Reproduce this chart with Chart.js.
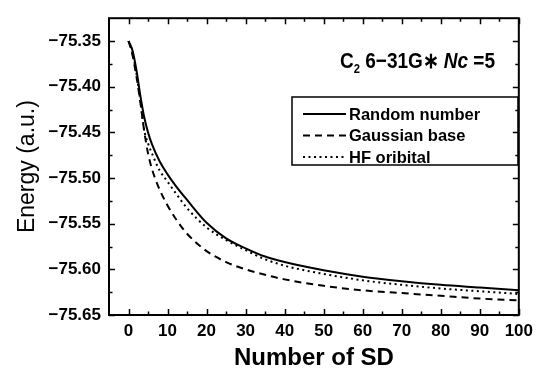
<!DOCTYPE html>
<html>
<head>
<meta charset="utf-8">
<script src="https://cdn.jsdelivr.net/npm/chart.js@4.4.1/dist/chart.umd.min.js"></script>
<style>
    body { margin: 0; background: #fff; }
    canvas { display: block; }
</style>
</head>
<body>
<canvas id="grafico" width="539" height="371"></canvas>
<script>
// valores
const numeroSD = [0, 1, 2, 3, 4, 5, 6, 8, 10, 12, 15, 20, 25, 30, 35, 40, 50, 60, 70, 80, 90, 100];
const energiaRandom = [-75.350, -75.360, -75.381, -75.409, -75.433, -75.450, -75.463, -75.482, -75.496, -75.508, -75.524, -75.549, -75.566, -75.577, -75.586, -75.592, -75.601, -75.608, -75.613, -75.617, -75.620, -75.623];
const energiaGaussian = [-75.350, -75.365, -75.388, -75.416, -75.448, -75.473, -75.490, -75.513, -75.530, -75.544, -75.561, -75.580, -75.592, -75.600, -75.606, -75.611, -75.618, -75.623, -75.626, -75.629, -75.632, -75.634];
const energiaHF = [-75.350, -75.362, -75.385, -75.414, -75.447, -75.462, -75.473, -75.492, -75.504, -75.516, -75.533, -75.554, -75.568, -75.579, -75.589, -75.596, -75.605, -75.612, -75.617, -75.621, -75.624, -75.627];

const ticksX = [0, 10, 20, 30, 40, 50, 60, 70, 80, 90, 100];
const ticksY = [-75.65, -75.60, -75.55, -75.50, -75.45, -75.40, -75.35];

const familia = '"Liberation Sans", Arial, sans-serif';

function montarPontos(valores) {
    return numeroSD.map((x, i) => ({ x: x, y: valores[i] }));
}

// caixa, tracinhos internos, legenda e anotacao
const pluginMoldura = {
    id: 'moldura',
    afterDraw(chart) {
        const ctx = chart.ctx;
        const area = chart.chartArea;
        const escalaX = chart.scales.x;
        const escalaY = chart.scales.y;

        ctx.save();
        ctx.strokeStyle = '#000';
        ctx.lineWidth = 2;
        ctx.strokeRect(area.left, area.top, area.right - area.left, area.bottom - area.top);

        ctx.lineWidth = 1.5;
        ctx.beginPath();
        const marcasX = [];
        ticksX.forEach((v, i) => {
            marcasX.push([v, 6]);
            if (i < ticksX.length - 1) {
                marcasX.push([(v + ticksX[i + 1]) / 2, 3.5]);
            }
        });
        marcasX.forEach(([v, tam]) => {
            const px = Math.round(escalaX.getPixelForValue(v)) + 0.5;
            ctx.moveTo(px, area.bottom);
            ctx.lineTo(px, area.bottom - tam);
            ctx.moveTo(px, area.top);
            ctx.lineTo(px, area.top + tam);
        });
        const marcasY = [];
        ticksY.forEach((v, i) => {
            marcasY.push([v, 6]);
            if (i < ticksY.length - 1) {
                marcasY.push([(v + ticksY[i + 1]) / 2, 3.5]);
            }
        });
        marcasY.forEach(([v, tam]) => {
            const py = Math.round(escalaY.getPixelForValue(v)) + 0.5;
            ctx.moveTo(area.left, py);
            ctx.lineTo(area.left + tam, py);
            ctx.moveTo(area.right, py);
            ctx.lineTo(area.right - tam, py);
        });
        ctx.stroke();

        // legenda
        const caixa = { x: 292, y: 97, w: 226, h: 68 };
        ctx.lineWidth = 1.5;
        ctx.strokeRect(caixa.x, caixa.y, caixa.w, caixa.h);
        ctx.font = 'bold 16.5px ' + familia;
        ctx.fillStyle = '#000';
        ctx.textBaseline = 'middle';
        chart.data.datasets.forEach((ds, i) => {
            const y = 114 + i * 21.5;
            ctx.beginPath();
            ctx.lineWidth = ds.borderWidth;
            ctx.setLineDash(ds.borderDash || []);
            ctx.moveTo(303, y);
            ctx.lineTo(346, y);
            ctx.stroke();
            ctx.setLineDash([]);
            ctx.fillText(ds.label, 349, y + 1);
        });

        // anotacao (fonte estreita: comprime na horizontal)
        const partes = [
            { t: 'C', f: 'bold 22px ', dy: 0 },
            { t: '2', f: 'bold 13px ', dy: 5 },
            { t: ' 6\u221231G\u2217 ', f: 'bold 22px ', dy: 0 },
            { t: 'Nc', f: 'italic bold 22px ', dy: 0 },
            { t: ' =5', f: 'bold 22px ', dy: 0 }
        ];
        let largura = 0;
        partes.forEach((p) => {
            ctx.font = p.f + familia;
            largura += ctx.measureText(p.t).width;
        });
        ctx.translate(340, 68);
        ctx.scale(155 / largura, 1);
        ctx.textBaseline = 'alphabetic';
        let x = 0;
        partes.forEach((p) => {
            ctx.font = p.f + familia;
            ctx.fillText(p.t, x, p.dy);
            x += ctx.measureText(p.t).width;
        });
        ctx.restore();
    }
};

const contexto = document.getElementById('grafico').getContext('2d');

new Chart(contexto, {
    type: 'line',
    data: {
        datasets: [
            {
                label: 'Random number',
                data: montarPontos(energiaRandom),
                borderColor: '#000',
                borderWidth: 2,
                borderDash: []
            },
            {
                label: 'Gaussian base',
                data: montarPontos(energiaGaussian),
                borderColor: '#000',
                borderWidth: 2,
                borderDash: [7, 5]
            },
            {
                label: 'HF oribital',
                data: montarPontos(energiaHF),
                borderColor: '#000',
                borderWidth: 2,
                borderDash: [2, 3.5]
            }
        ]
    },
    options: {
        responsive: false,
        animation: false,
        devicePixelRatio: 1,
        layout: {
            padding: { top: 12, right: 16, bottom: 0, left: 0 }
        },
        elements: {
            point: { radius: 0 },
            line: { cubicInterpolationMode: 'monotone' }
        },
        scales: {
            x: {
                type: 'linear',
                min: -5,
                max: 100,
                afterBuildTicks: (escala) => {
                    escala.ticks = ticksX.map((v) => ({ value: v }));
                },
                afterFit: (escala) => {
                    escala.height = 56;
                },
                grid: { display: false, drawTicks: false },
                border: { display: false },
                ticks: {
                    color: '#000',
                    font: { family: familia, size: 17, weight: 'bold' },
                    padding: 6,
                    maxRotation: 0,
                    autoSkip: false
                },
                title: {
                    display: true,
                    text: 'Number of SD',
                    color: '#000',
                    font: { family: familia, size: 24, weight: 'bold', lineHeight: 1 },
                    padding: { top: 0, bottom: 1 }
                }
            },
            y: {
                min: -75.65,
                max: -75.325,
                afterBuildTicks: (escala) => {
                    escala.ticks = ticksY.map((v) => ({ value: v }));
                },
                afterFit: (escala) => {
                    escala.width = 109;
                },
                grid: { display: false, drawTicks: false },
                border: { display: false },
                ticks: {
                    color: '#000',
                    font: { family: familia, size: 17, weight: 'bold' },
                    padding: 8,
                    autoSkip: false,
                    callback: (v) => Number(v).toFixed(2).replace('-', '\u2212')
                },
                title: {
                    display: true,
                    text: 'Energy (a.u.)',
                    color: '#000',
                    font: { family: familia, size: 23, weight: 'normal' },
                    padding: { top: 14, bottom: 0 }
                }
            }
        },
        plugins: {
            legend: { display: false },
            tooltip: { enabled: false }
        }
    },
    plugins: [pluginMoldura]
});
</script>
</body>
</html>
